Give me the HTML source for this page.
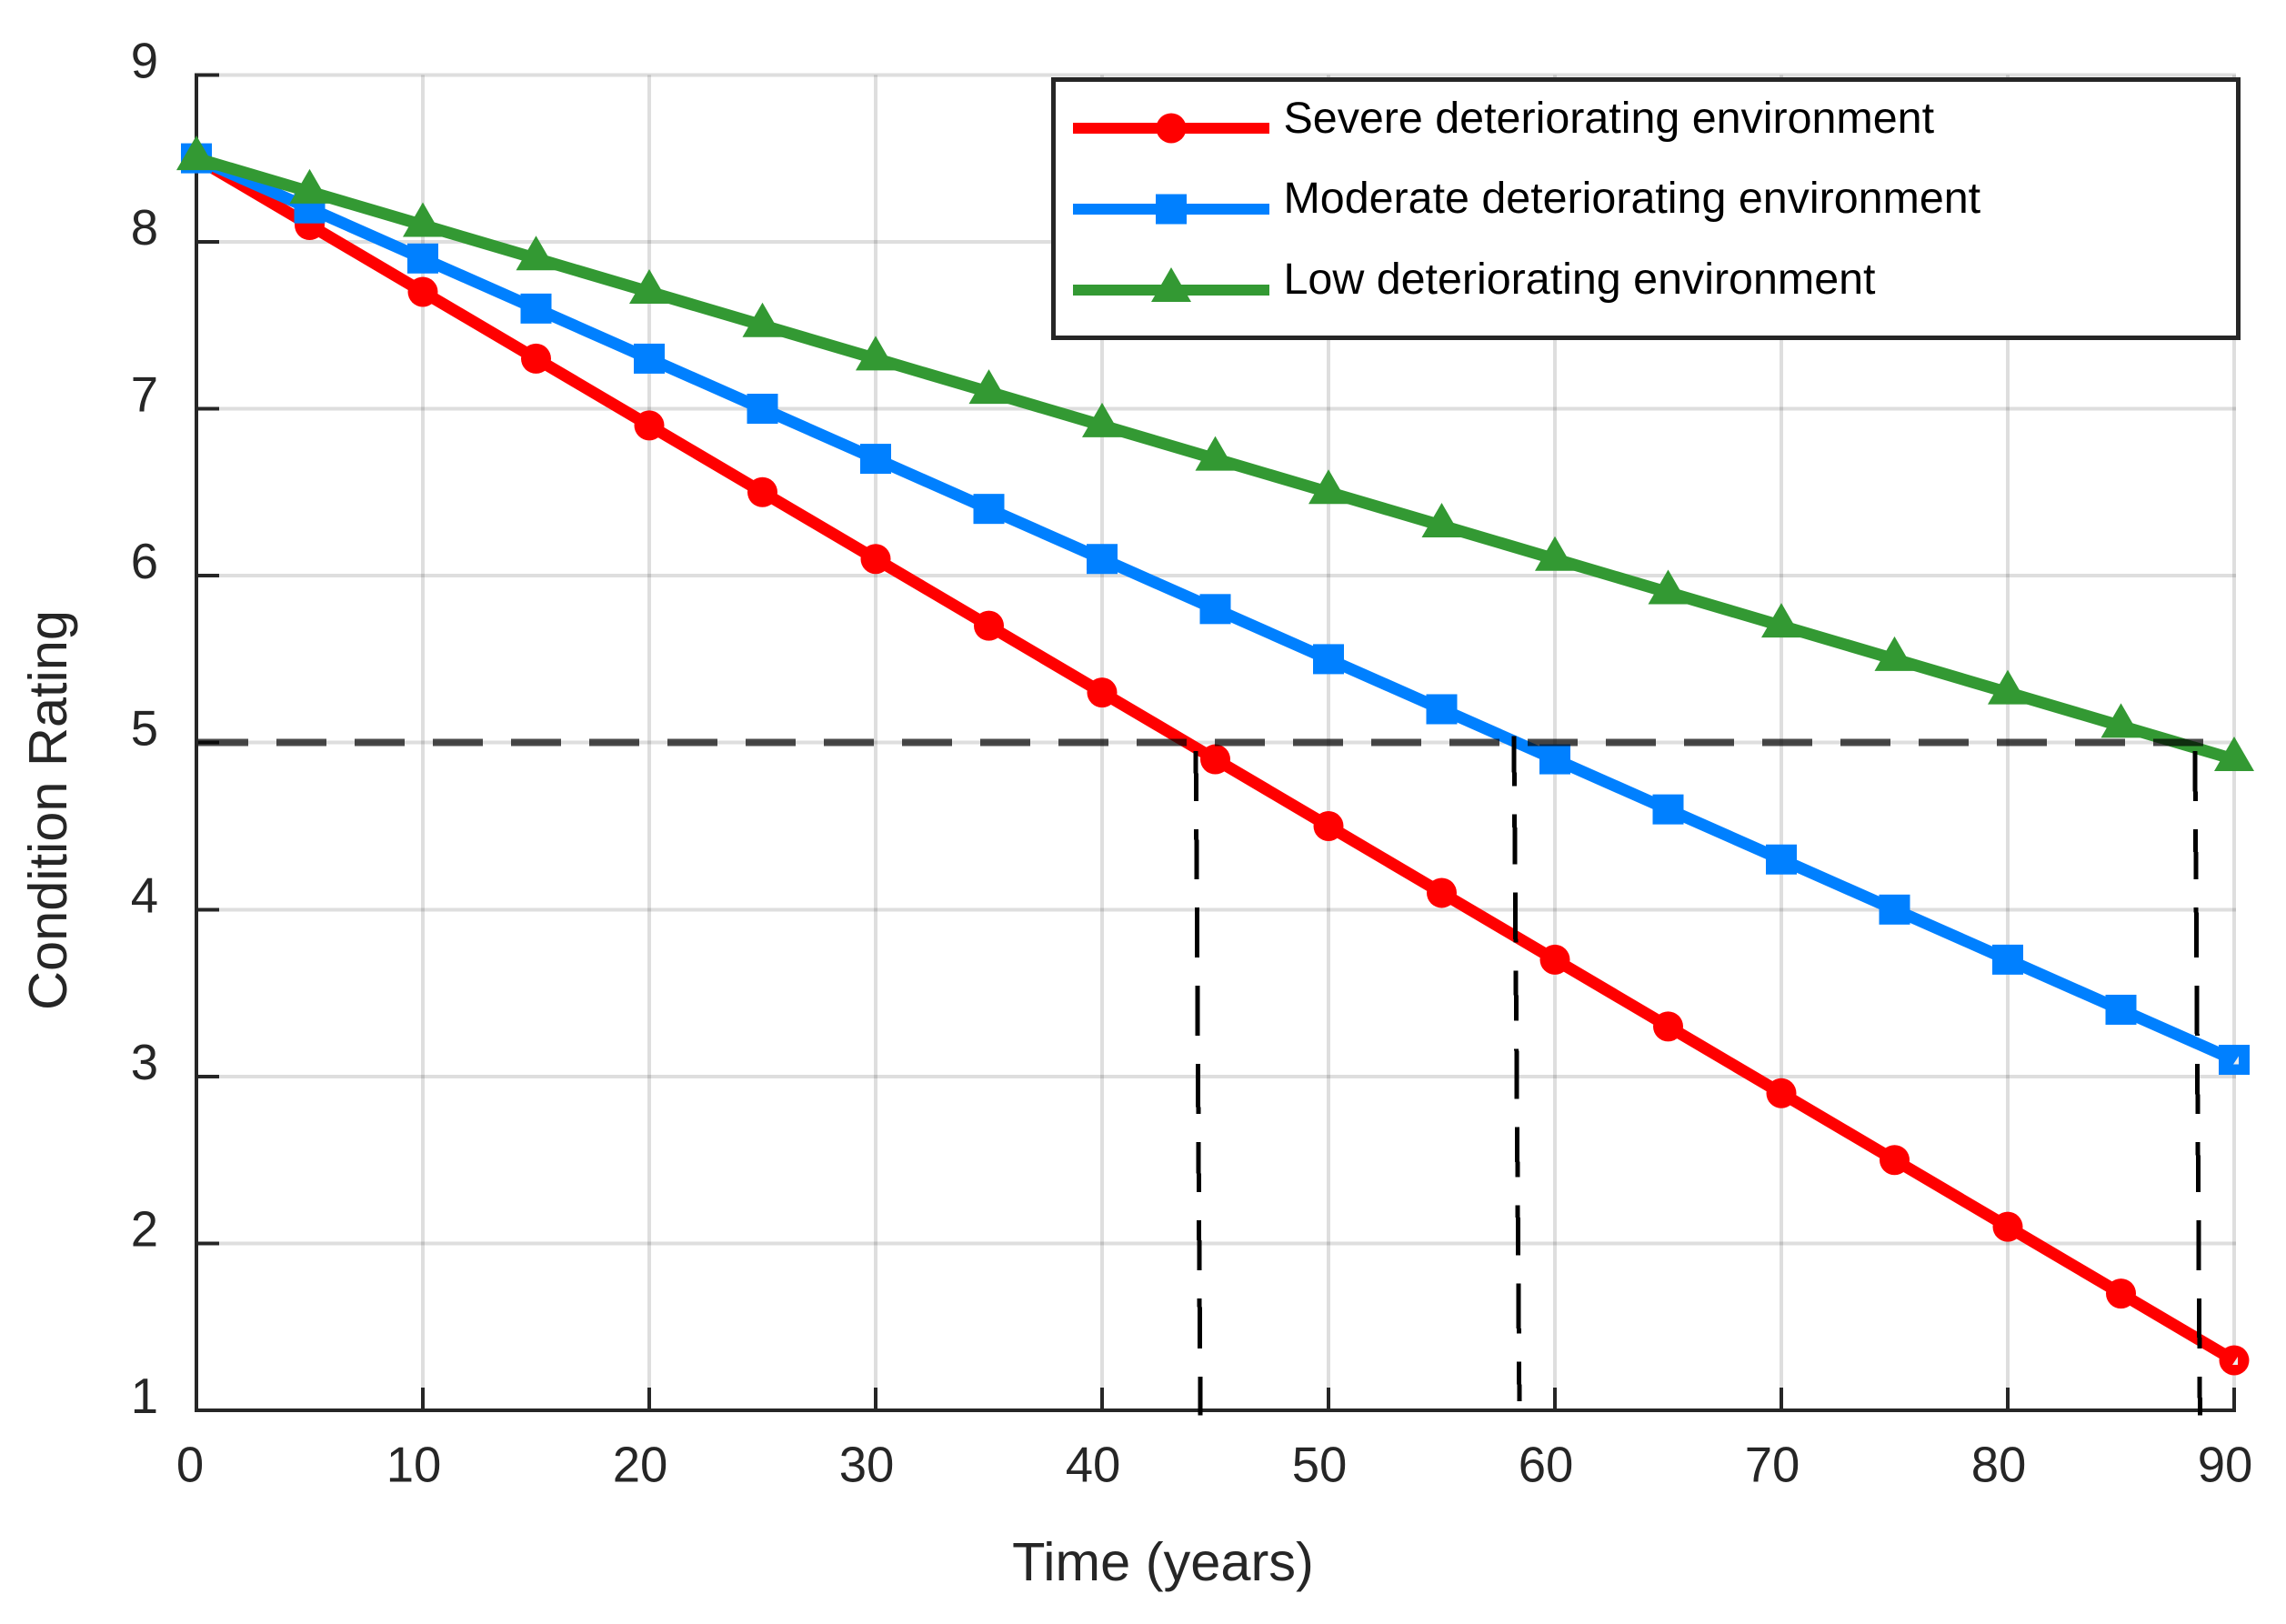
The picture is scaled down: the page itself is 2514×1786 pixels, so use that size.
<!DOCTYPE html>
<html lang="en">
<head>
<meta charset="utf-8">
<title>Condition Rating over Time</title>
<style>
  html, body { margin: 0; padding: 0; background: #fff; }
  svg { display: block; }
  text { font-family: "Liberation Sans", Arial, sans-serif; }
</style>
</head>
<body>
<svg id="chart" xmlns="http://www.w3.org/2000/svg" width="2514" height="1786" viewBox="0 0 2514 1786">
  <rect x="0" y="0" width="2514" height="1786" fill="#ffffff"/>
  <g id="grid"></g>
  <g id="axes"></g>
  <g id="series"></g>
  <g id="refs"></g>
  <g id="legend">
    <rect x="1158.5" y="87.5" width="1303" height="284" fill="#ffffff" stroke="#262626" stroke-width="5"/>
    <g id="legend-keys"></g>
    <text x="1411.5" y="146" font-size="48.4" fill="#000000">Severe deteriorating environment</text>
    <text x="1411.5" y="234" font-size="48.4" fill="#000000">Moderate deteriorating environment</text>
    <text x="1411.5" y="323" font-size="48.4" fill="#000000">Low deteriorating environment</text>
  </g>
  <text x="1279" y="1738" font-size="59.5" fill="#262626" text-anchor="middle">Time (years)</text>
  <text transform="translate(73 891) rotate(-90)" x="0" y="0" font-size="59.5" fill="#262626" text-anchor="middle">Condition Rating</text>
</svg>
<script>
// Chart data
const years = [0, 5, 10, 15, 20, 25, 30, 35, 40, 45, 50, 55, 60, 65, 70, 75, 80, 85, 90];
const severeValues = [8.5, 8.1, 7.7, 7.3, 6.9, 6.5, 6.1, 5.7, 5.3, 4.9, 4.5, 4.1, 3.7, 3.3, 2.9, 2.5, 2.1, 1.7, 1.3];
const moderateValues = [8.5, 8.2, 7.9, 7.6, 7.3, 7.0, 6.7, 6.4, 6.1, 5.8, 5.5, 5.2, 4.9, 4.6, 4.3, 4.0, 3.7, 3.4, 3.1];
const lowValues = [8.5, 8.3, 8.1, 7.9, 7.7, 7.5, 7.3, 7.1, 6.9, 6.7, 6.5, 6.3, 6.1, 5.9, 5.7, 5.5, 5.3, 5.1, 4.9];
const xTickLabels = [0, 10, 20, 30, 40, 50, 60, 70, 80, 90];
const yTickLabels = [1, 2, 3, 4, 5, 6, 7, 8, 9];
const thresholdRating = 5;
const thresholdEndYear = 88.67;
const dropTopYears = [44.14, 58.19, 88.27];
const dropBottomYears = [44.34, 58.43, 88.49];
const dropTopRatings = [4.95, 5.04, 4.95];
const dropBottomRatings = [0.97, 1.055, 0.97];

const NS = 'http://www.w3.org/2000/svg';
function xOf(t) { return 216 + (t - 0) * 24.9; }
function yOf(v) { return 82.3 + (9 - v) * 183.6; }

function make(tag, parent, props) {
  const el = document.createElementNS(NS, tag);
  for (const k in props) el.setAttribute(k, props[k]);
  parent.appendChild(el);
  return el;
}

const gridG = document.getElementById('grid');
const axesG = document.getElementById('axes');
const seriesG = document.getElementById('series');
const refsG = document.getElementById('refs');
const keysG = document.getElementById('legend-keys');
const DARK = '#262626';
const GRID = 'rgba(0,0,0,0.13)';

// Grid lines
xTickLabels.forEach(function (t) {
  if (t === 0) return;
  const el = make('line', gridG, { x1: xOf(t), x2: xOf(t), y1: yOf(9), y2: yOf(1), stroke: GRID, 'stroke-width': 4, 'shape-rendering': 'crispEdges' });
  
  
});
yTickLabels.forEach(function (v) {
  if (v === 1) return;
  const el = make('line', gridG, { x1: xOf(0), x2: xOf(90) + 2, y1: yOf(v), y2: yOf(v), stroke: GRID, 'stroke-width': 4, 'shape-rendering': 'crispEdges' });
  
  
});

// Axis lines
const xAxisLine = make('line', axesG, { x1: xOf(0) - 2, x2: xOf(90) + 2, y1: yOf(1), y2: yOf(1), stroke: DARK, 'stroke-width': 4, 'shape-rendering': 'crispEdges' });


const yAxisLine = make('line', axesG, { x1: xOf(0), x2: xOf(0), y1: yOf(9) - 2, y2: yOf(1) + 2, stroke: DARK, 'stroke-width': 4, 'shape-rendering': 'crispEdges' });



// Ticks and tick labels
xTickLabels.forEach(function (t) {
  const tick = make('line', axesG, { x1: xOf(t), x2: xOf(t), y1: yOf(1) - 25, y2: yOf(1), stroke: DARK, 'stroke-width': 4, 'shape-rendering': 'crispEdges' });
  
  
  const label = make('text', axesG, { x: xOf(t) - (t === 0 ? 7 : 10), y: 1629.5, 'font-size': 54.5, fill: DARK, 'text-anchor': 'middle' });
  label.textContent = String(t);
  
  
});
yTickLabels.forEach(function (v) {
  const tick = make('line', axesG, { x1: xOf(0), x2: xOf(0) + 25, y1: yOf(v), y2: yOf(v), stroke: DARK, 'stroke-width': 4, 'shape-rendering': 'crispEdges' });
  
  
  const label = make('text', axesG, { x: 174, y: yOf(v) + 3, 'font-size': 54.5, fill: DARK, 'text-anchor': 'end' });
  label.textContent = String(v);
  
  
});

// Marker drawing
function marker(kind, parent, cx, cy, color, name) {
  let el;
  if (kind === 'circle') {
    el = make('circle', parent, { cx: cx, cy: cy, r: 16.5, fill: color });
  } else if (kind === 'square') {
    el = make('rect', parent, { x: cx - 17, y: cy - 16.5, width: 34, height: 33, fill: color });
  } else {
    el = make('polygon', parent, { points: cx + ',' + (cy - 25) + ' ' + (cx + 22) + ',' + (cy + 13) + ' ' + (cx - 22) + ',' + (cy + 13), fill: color });
  }
  
  
  return el;
}

// Series
function drawSeries(values, color, kind, key) {
  const g = make('g', seriesG, {});
  
  
  const pts = values.map(function (v, i) { return xOf(years[i]) + ',' + yOf(v); }).join(' ');
  const line = make('polyline', g, { points: pts, fill: 'none', stroke: color, 'stroke-width': 13, 'stroke-linejoin': 'round' });
  
  
  values.forEach(function (v, i) {
    marker(kind, g, xOf(years[i]), yOf(v), color, 'point-' + key + '-' + years[i]);
  });
  return g;
}
const severeGroup = drawSeries(severeValues, '#ff0000', 'circle', 'severe');
const moderateGroup = drawSeries(moderateValues, '#0080ff', 'square', 'moderate');
const lowGroup = drawSeries(lowValues, '#339933', 'triangle', 'low');

// Small unfilled notches inside the final markers
function notch(group, year, value, a, name) {
  const cx = xOf(year);
  const cy = yOf(value);
  const el = make('polygon', group, { points: (cx + a[0]) + ',' + (cy + a[1]) + ' ' + (cx + a[2]) + ',' + (cy + a[1]) + ' ' + (cx + a[2]) + ',' + (cy + a[3]), fill: '#ececec' });
  
  
}
notch(severeGroup, years[18], severeValues[18], [-2, 5, 4, -4], 'severe-end-marker-notch');
notch(moderateGroup, years[18], moderateValues[18], [-1, 5, 5, -4], 'moderate-end-marker-notch');

// Reference lines
const thresholdLine = make('line', refsG, { x1: xOf(0) + 2, x2: xOf(thresholdEndYear), y1: yOf(thresholdRating), y2: yOf(thresholdRating), stroke: 'rgba(0,0,0,0.7)', 'stroke-width': 8, 'stroke-dasharray': '55 31', 'shape-rendering': 'crispEdges' });


dropTopYears.forEach(function (t, i) {
  const el = make('line', refsG, { x1: xOf(t), x2: xOf(dropBottomYears[i]), y1: yOf(dropTopRatings[i]), y2: yOf(dropBottomRatings[i]), stroke: '#000000', 'stroke-width': 5, 'stroke-dasharray': '55 31', 'shape-rendering': 'crispEdges' });
  
  
});

// Legend keys
function legendKey(color, kind, cy, key) {
  const line = make('line', keysG, { x1: 1180, x2: 1396, y1: cy, y2: cy, stroke: color, 'stroke-width': 12 });
  
  
  marker(kind, keysG, 1288, cy, color, 'legend-marker-' + key);
}
legendKey('#ff0000', 'circle', 141, 'severe');
legendKey('#0080ff', 'square', 230, 'moderate');
legendKey('#339933', 'triangle', 319, 'low');
</script>
</body>
</html>
